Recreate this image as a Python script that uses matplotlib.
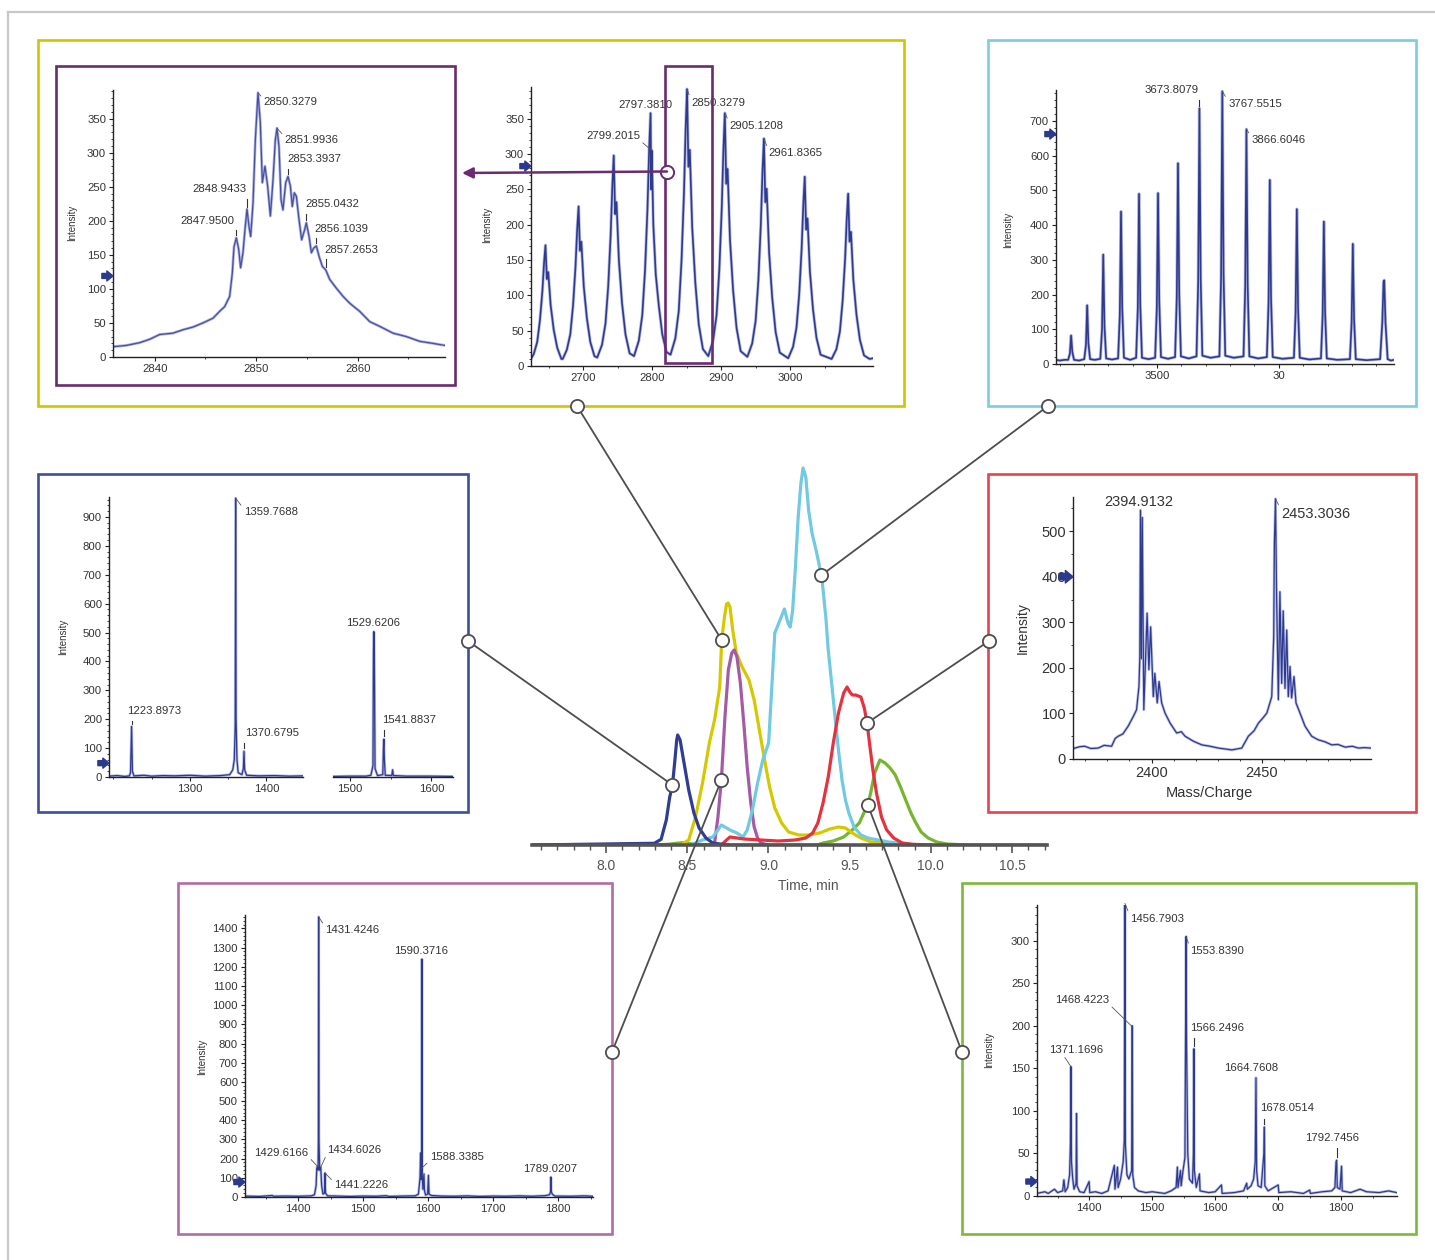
import numpy as np
import matplotlib.pyplot as plt
from matplotlib import font_manager
from matplotlib.patches import Rectangle

# ---------------- chromatogram traces (time, min / relative intensity) ----------------
blue_t = [7.544, 8.297, 8.339, 8.371, 8.392, 8.409, 8.424, 8.435, 8.441, 8.456, 8.477, 8.509, 8.541, 8.573, 8.615, 8.657, 8.75]
blue_h = [0, 1.7, 5.7, 25, 48, 60, 85, 105, 110, 105, 85, 55, 32, 17, 7, 2, 0]

yellow_t = [8.40, 8.466, 8.509, 8.551, 8.594, 8.636, 8.668, 8.700, 8.712, 8.729, 8.742, 8.751, 8.763, 8.780, 8.802,
            8.838, 8.880, 8.912, 8.944, 8.976, 9.007, 9.039, 9.081, 9.124, 9.187, 9.251, 9.315, 9.378, 9.431, 9.474,
            9.516, 9.569, 9.633, 9.718, 9.802, 9.95]
yellow_h = [0, 0.7, 5, 28, 62, 102, 125, 158, 205, 228, 241, 242, 238, 215, 192, 178, 165, 145, 115, 85, 58, 37, 22,
            13, 10, 10, 12, 16, 18, 17, 12, 7, 3, 2, 0.7, 0]

purple_t = [7.544, 8.657, 8.668, 8.689, 8.710, 8.732, 8.753, 8.774, 8.789, 8.806, 8.827, 8.848, 8.869, 8.891, 8.912,
            8.933, 8.954, 8.997]
purple_h = [0, 0, 2, 28, 65, 128, 175, 192, 195, 188, 162, 122, 78, 42, 18, 7, 2, 0]

cyan_t = [8.45, 8.530, 8.594, 8.657, 8.689, 8.710, 8.732, 8.763, 8.806, 8.844, 8.869, 8.901, 8.933, 8.965, 9.001,
          9.022, 9.039, 9.064, 9.098, 9.120, 9.134, 9.149, 9.166, 9.183, 9.200, 9.213, 9.230, 9.247, 9.268, 9.293,
          9.315, 9.332, 9.353, 9.368, 9.389, 9.410, 9.431, 9.453, 9.474, 9.495, 9.527, 9.569, 9.612, 9.675, 9.739,
          9.802, 9.908]
cyan_h = [0, 0.7, 5, 8, 15, 20, 18, 15, 12, 8, 15, 35, 62, 85, 102, 162, 212, 222, 236, 222, 218, 235, 278, 328, 362,
          377, 368, 335, 312, 295, 278, 262, 228, 195, 162, 128, 95, 65, 45, 32, 18, 10, 7, 5, 3, 2, 0]

red_t = [8.60, 8.710, 8.742, 8.763, 8.848, 8.954, 9.060, 9.166, 9.230, 9.272, 9.304, 9.336, 9.368, 9.399, 9.431,
         9.463, 9.484, 9.501, 9.516, 9.537, 9.569, 9.590, 9.607, 9.622, 9.643, 9.665, 9.696, 9.728, 9.771, 9.824,
         9.887, 10.0]
red_h = [0, 0, 5, 8, 6, 5, 4, 5, 7, 12, 22, 42, 68, 102, 132, 152, 158, 153, 150, 150, 148, 137, 122, 102, 75, 52,
         28, 15, 7, 2, 0.7, 0]

green_t = [8.30, 8.382, 8.466, 8.530, 8.60, 9.30, 9.336, 9.399, 9.463, 9.516, 9.559, 9.590, 9.612, 9.633, 9.654,
           9.686, 9.718, 9.749, 9.781, 9.813, 9.845, 9.877, 9.908, 9.940, 9.983, 10.036, 10.099, 10.226, 10.715]
green_h = [0, 0.7, 2.3, 1, 0, 0, 2, 4, 8, 15, 22, 33, 40, 55, 72, 85, 82, 77, 70, 58, 45, 32, 22, 13, 7, 3, 1, 0, 0]

# ---------------- mass spectra (m/z, intensity) ----------------
# zoomed isotope cluster (purple box)
a1_mz = [2835.83, 2837.21, 2838.52, 2839.51, 2840.49, 2841.81, 2842.79, 2843.78, 2844.76, 2845.75, 2846.40, 2846.90,
         2847.39, 2847.65, 2847.82, 2848.05, 2848.28, 2848.47, 2848.70, 2848.93, 2849.10, 2849.29, 2849.46, 2849.69,
         2849.92, 2850.18, 2850.41, 2850.61, 2850.87, 2851.13, 2851.40, 2851.66, 2851.89, 2852.05, 2852.25, 2852.45,
         2852.64, 2852.91, 2853.14, 2853.37, 2853.56, 2853.76, 2853.96, 2854.22, 2854.48, 2854.78, 2854.94, 2855.21,
         2855.44, 2855.67, 2855.93, 2856.19, 2856.52, 2856.85, 2857.24, 2857.90, 2858.56, 2859.21, 2860.20, 2861.18,
         2862.17, 2863.48, 2864.79, 2866.11, 2867.42, 2868.57]
a1_int = [15, 17, 21, 26, 33, 35, 40, 44, 50, 57, 67, 74, 89, 123, 162, 175, 158, 131, 153, 192, 217, 192, 177, 226,
          319, 388, 344, 256, 280, 251, 207, 260, 319, 336, 309, 231, 216, 256, 265, 251, 221, 241, 236, 202, 172,
          187, 197, 177, 153, 160, 163, 148, 133, 128, 114, 101, 89, 79, 67, 52, 45, 35, 30, 23, 20, 17]

# yellow charge envelope
a2_mz = [2624, 2628, 2633, 2637, 2640.5, 2643, 2645, 2647, 2649, 2652.5, 2657, 2662, 2668,
         2670, 2676, 2681, 2685, 2688.5, 2691, 2693, 2695, 2697, 2700.5, 2705, 2710, 2716,
         2720, 2727, 2732, 2736, 2739.5, 2742, 2744, 2746, 2748, 2751.5, 2756, 2761, 2767,
         2773.4, 2780.4, 2785.4, 2789.4, 2792.9, 2795.4, 2797.4, 2798.3, 2799.2, 2801.4, 2804.9, 2809.4, 2814.4, 2820.4,
         2826.3, 2833.3, 2838.3, 2842.3, 2845.8, 2848.3, 2850.3, 2852.3, 2854.3, 2857.8, 2862.3, 2867.3, 2873.3,
         2881.1, 2888.1, 2893.1, 2897.1, 2900.6, 2903.1, 2905.1, 2907.1, 2909.1, 2912.6, 2917.1, 2922.1, 2928.1,
         2937.8, 2944.8, 2949.8, 2953.8, 2957.3, 2959.8, 2961.8, 2963.8, 2965.8, 2969.3, 2973.8, 2978.8, 2984.8,
         2997, 3004, 3009, 3013, 3016.5, 3019, 3021, 3023, 3025, 3028.5, 3033, 3038, 3044,
         3060, 3067, 3072, 3076, 3079.5, 3082, 3084, 3086, 3088, 3091.5, 3096, 3101, 3107, 3115, 3120]
a2_int = [10, 17, 34, 65, 106, 147, 171, 123, 133, 86, 51, 26, 10,
          10, 23, 45, 86, 140, 194, 226, 163, 176, 113, 68, 34, 14,
          12, 30, 60, 113, 185, 256, 298, 215, 232, 149, 89, 45, 18,
          14, 36, 72, 136, 222, 308, 358, 250, 305, 200, 130, 85, 45, 20,
          16, 39, 78, 149, 243, 337, 392, 282, 306, 196, 118, 59, 24,
          14, 36, 72, 136, 222, 308, 358, 258, 279, 179, 107, 54, 21,
          13, 32, 64, 122, 200, 277, 322, 232, 251, 161, 97, 48, 19,
          11, 27, 54, 102, 166, 230, 268, 193, 209, 134, 80, 40, 16,
          10, 24, 49, 93, 151, 210, 244, 176, 190, 122, 73, 37, 15, 10, 11]

# cyan charge envelope
b_mz = [3085, 3100, 3120,
        3135, 3142, 3147, 3152, 3159, 3180,
        3201, 3208, 3213, 3218, 3225, 3245,
        3267, 3274, 3279, 3284, 3291, 3315,
        3340, 3347, 3352, 3357, 3364, 3390,
        3414, 3421, 3426, 3431, 3438, 3465,
        3492, 3499, 3504, 3509, 3516, 3545,
        3574, 3581, 3586, 3591, 3598, 3630,
        3662, 3669, 3674, 3679, 3686, 3720,
        3756, 3763, 3768, 3773, 3780, 3815,
        3855, 3862, 3867, 3872, 3879, 3915,
        3951, 3958, 3963, 3968, 3975, 4015,
        4062, 4069, 4074, 4079, 4086, 4125,
        4173, 4180, 4185, 4190, 4197, 4240,
        4292, 4299, 4304, 4309, 4316, 4360,
        4416, 4425, 4430, 4433, 4438, 4447, 4460, 4473]
b_int = [12, 10, 12,
         12, 30, 82, 35, 12, 10,
         14, 55, 169, 60, 14, 12,
         15, 100, 315, 110, 16, 13,
         16, 140, 439, 160, 18, 12,
         18, 160, 490, 170, 18, 14,
         18, 160, 492, 180, 20, 15,
         20, 190, 578, 200, 22, 16,
         22, 240, 736, 250, 24, 18,
         22, 250, 785, 260, 24, 18,
         22, 220, 676, 230, 22, 16,
         20, 180, 530, 190, 20, 15,
         18, 150, 446, 160, 18, 13,
         16, 140, 410, 150, 16, 12,
         14, 120, 346, 130, 14, 11,
         14, 120, 236, 241, 120, 14, 10, 12]

# dark blue spectrum, two segments
c1_mz = [1194.4, 1205, 1215, 1221, 1222.5, 1223.9, 1225, 1227, 1240, 1250, 1265, 1280, 1300, 1320, 1340, 1352, 1356,
         1358, 1359.2, 1359.77, 1360.3, 1361.5, 1363, 1368, 1369.8, 1370.68, 1371.5, 1374, 1390, 1410, 1430, 1447.7]
c1_int = [3, 5, 2, 4, 15, 175, 20, 4, 6, 3, 5, 4, 6, 3, 5, 8, 25, 60, 180, 965, 200, 60, 15, 8, 30, 89, 25, 6, 4, 5,
          3, 4]
c2_mz = [1479.6, 1500, 1520, 1526, 1528.5, 1529.1, 1529.62, 1530.2, 1531, 1534, 1540.5, 1541.3, 1541.88, 1542.5,
         1543.5, 1551.5, 1552.5, 1553.5, 1570, 1600, 1626.4]
c2_int = [2, 3, 3, 6, 40, 428, 503, 420, 30, 5, 8, 100, 131, 60, 6, 5, 25, 5, 3, 3, 2]

# red spectrum
d_mz = [2364.4, 2365.2, 2367.5, 2369.7, 2372.5, 2375.8, 2378.5, 2381.9, 2383.5, 2384.9, 2387, 2389.4, 2391.7, 2393.2,
        2394.3, 2394.7, 2395.0, 2395.4, 2395.8, 2396.5, 2398.0, 2398.8, 2399.6, 2400.8, 2401.5, 2402.6, 2403.4,
        2404.6, 2406.1, 2408.4, 2411.4, 2413.5, 2415.2, 2419.0, 2422.8, 2426.5, 2430.3, 2436.4, 2440.9, 2443.9,
        2446.5, 2448.5, 2450.5, 2452.3, 2454.5, 2455.4, 2455.7, 2456.2, 2456.7, 2457.5, 2458.2, 2459.0, 2459.7,
        2460.5, 2461.3, 2462.0, 2462.8, 2463.5, 2464.6, 2465.5, 2467.3, 2469.6, 2472.6, 2475.6, 2478.5, 2481.7,
        2484.5, 2487.8, 2491, 2493.8, 2496.5, 2499.4]
d_int = [22, 24, 27, 28, 23, 24, 30, 28, 45, 50, 55, 72, 93, 108, 159, 225, 546, 220, 530, 108, 320, 196, 290, 137,
         188, 123, 170, 123, 101, 79, 57, 60, 50, 39, 31, 28, 24, 20, 24, 50, 62, 79, 90, 101, 137, 269, 473, 571, 358,
         130, 367, 166, 325, 155, 283, 137, 203, 134, 181, 123, 101, 72, 50, 42, 38, 31, 32, 26, 28, 24, 25, 24]

# magenta spectrum
e_mz = [1318, 1340, 1360, 1362, 1380, 1400, 1420, 1425, 1427.5, 1428.5, 1429.6, 1430.5, 1431.0, 1431.42, 1431.9,
        1433, 1434.6, 1436, 1438, 1440.3, 1441.2, 1442, 1445, 1460, 1480, 1500, 1520, 1535, 1540, 1560, 1580, 1585,
        1587.5, 1588.34, 1589.3, 1590.0, 1590.37, 1590.8, 1592, 1593.5, 1594.3, 1596, 1599.2, 1600.4, 1601.3, 1605,
        1620, 1640, 1660, 1680, 1700, 1720, 1740, 1760, 1780, 1787, 1788.5, 1789.02, 1789.6, 1791, 1795, 1820, 1840,
        1853]
e_int = [5, 3, 8, 4, 5, 4, 6, 12, 60, 150, 160, 140, 300, 1460, 300, 140, 155, 60, 15, 20, 125, 20, 6, 5, 3, 5, 4, 7,
         3, 5, 6, 15, 100, 230, 90, 150, 1240, 120, 40, 120, 35, 10, 15, 113, 15, 8, 5, 4, 6, 3, 5, 4, 6, 4, 7, 12,
         30, 104, 30, 15, 5, 4, 6, 4]

# green spectrum
f_mz = [1317, 1330, 1335, 1345, 1350, 1358, 1360, 1362, 1366, 1369, 1370.3, 1371.17, 1372, 1374, 1376, 1379.3, 1380,
        1380.8, 1385, 1392, 1400, 1401, 1410, 1420, 1430, 1440, 1441, 1445, 1446, 1450, 1454, 1455.8, 1456.79,
        1457.6, 1460, 1463, 1467.5, 1468.42, 1469.2, 1472, 1478, 1490, 1500, 1520, 1530, 1538, 1540, 1541, 1545,
        1546, 1549, 1552, 1553.0, 1553.84, 1554.6, 1556.5, 1559, 1564, 1565.5, 1566.25, 1567, 1570, 1575, 1576,
        1590, 1600, 1610, 1611, 1630, 1645, 1650, 1651, 1657, 1661, 1663.5, 1664.76, 1665.8, 1668, 1673, 1677.3,
        1678.05, 1678.8, 1684, 1700, 1701, 1720, 1740, 1750, 1751, 1770, 1785, 1790, 1791.8, 1792.75, 1793.7, 1798,
        1800.5, 1801.5, 1815, 1830, 1840, 1860, 1875, 1888]
f_int = [3, 5, 3, 8, 4, 6, 19, 5, 10, 25, 60, 152, 40, 20, 8, 15, 97, 12, 5, 4, 17, 4, 5, 3, 6, 36, 8, 34, 10, 20,
         40, 65, 344, 60, 25, 20, 30, 200, 25, 10, 6, 4, 5, 3, 6, 10, 34, 10, 30, 12, 30, 45, 186, 305, 180, 50, 20,
         15, 50, 173, 30, 10, 26, 6, 4, 5, 13, 3, 4, 6, 15, 8, 12, 20, 40, 139, 30, 12, 10, 50, 81, 12, 6, 13, 4, 5,
         3, 7, 3, 5, 6, 10, 40, 42, 10, 8, 35, 6, 4, 8, 5, 4, 6, 4]

# ---------------- figure ----------------
W, H = 1435, 1260
fig = plt.figure(figsize=(W / 100, H / 100), dpi=100)
fig.patch.set_facecolor('white')

names = {f.name for f in font_manager.fontManager.ttflist}
NARROW = 'Liberation Sans Narrow' if 'Liberation Sans Narrow' in names else 'Liberation Sans'
FS = 9 if NARROW.endswith('Narrow') else 8.2
SANS = 'Liberation Sans'

LINE = '#2e3a8f'
HALO = '#a9b0de'
ARROW = '#2c3a8c'

# overlay in pixel coordinates, drawn on top of everything
bg = fig.add_axes([0, 0, 1, 1], zorder=10)
bg.set_xlim(0, W)
bg.set_ylim(H, 0)
bg.axis('off')
bg.patch.set_alpha(0)


def px_axes(left, top, right, bottom):
    return fig.add_axes([left / W, 1 - bottom / H, (right - left) / W, (bottom - top) / H])


def spectrum_axes(box, xlim, ylim, xmaj, xmin, ymaj, ymin, xlabels=None, show_y=True, fs=FS, family=NARROW):
    ax = px_axes(*box)
    ax.patch.set_alpha(0)
    ax.spines[['top', 'right']].set_visible(False)
    for s in ['left', 'bottom']:
        ax.spines[s].set_color('#222')
        ax.spines[s].set_linewidth(1.0)
    ax.set_xticks(xmaj)
    if xlabels:
        ax.set_xticklabels(xlabels)
    ax.set_xticks(xmin, minor=True)
    if show_y:
        ax.set_yticks(ymaj)
        ax.set_yticks(ymin, minor=True)
    else:
        ax.spines['left'].set_visible(False)
        ax.set_yticks([])
    ax.set_xlim(*xlim)
    ax.set_ylim(*ylim)
    ax.tick_params(which='major', length=3, width=0.8, color='#222', labelsize=fs, labelcolor='#333', pad=2)
    ax.tick_params(which='minor', length=1.6, width=0.6, color='#222')
    for lab in ax.get_xticklabels() + ax.get_yticklabels():
        lab.set_family(family)
    return ax


def trace(ax, x, y, lw=0.9):
    ax.plot(x, y, color=HALO, lw=lw + 1.1, solid_joinstyle='round', alpha=0.8)
    ax.plot(x, y, color=LINE, lw=lw, solid_joinstyle='round')


def y_arrow(ax, yv, size=8):
    ax.annotate('', xy=(0, yv), xycoords=('axes fraction', 'data'), xytext=(-size, 0), textcoords='offset points',
                arrowprops=dict(arrowstyle='simple,head_length=0.55,head_width=0.9,tail_width=0.45',
                                fc=ARROW, ec=ARROW, mutation_scale=size, shrinkA=0, shrinkB=0),
                annotation_clip=False)


def put_labels(ax, labels, fs=FS, family=NARROW):
    y0, y1 = ax.get_ylim()
    span = y1 - y0
    for lab in labels:
        text, x, y, tx, ty, kind, ha = lab[:7]
        if kind == 'lead':
            ax.annotate(text, xy=(x, y), xytext=(tx, ty), ha=ha, va='center', fontsize=fs, family=family,
                        color='#333', annotation_clip=False,
                        arrowprops=dict(arrowstyle='-', color='#555', lw=0.6, shrinkA=0, shrinkB=0, relpos=lab[7]))
        else:
            if kind == 'tick':
                ax.plot([x, x], [y + 0.01 * span, ty - 0.035 * span], color='#333', lw=0.8, clip_on=False)
            ax.text(tx, ty, text, ha=ha, va='center', fontsize=fs, family=family, color='#333', clip_on=False)


def ylabel_px(x, y, fs=7, family=NARROW):
    bg.text(x, y, 'Intensity', rotation=90, ha='center', va='center', fontsize=fs, family=family, color='#333')


# ---- yellow panel, left: zoomed cluster ----
ax = spectrum_axes((113, 90, 445, 357), (2835.9, 2868.6), (0, 392), [2840, 2850, 2860], [2845, 2855, 2865],
                   np.arange(0, 351, 50), np.arange(0, 391, 10))
ax.plot(a1_mz, a1_int, color='#8c93d0', lw=2.0, alpha=0.7)
ax.plot(a1_mz, a1_int, color='#4450a0', lw=0.9)
y_arrow(ax, 119)
put_labels(ax, [('2850.3279', 2850.18, 388, 2850.74, 374, 'lead', 'left', (0, 0.8)),
                ('2851.9936', 2852.05, 336, 2852.81, 319, 'lead', 'left', (0, 0.8)),
                ('2853.3937', 2853.14, 265, 2853.04, 290, 'tick', 'left'),
                ('2848.9433', 2849.10, 217, 2849.03, 246, 'tick', 'right'),
                ('2847.9500', 2848.05, 175, 2847.88, 200, 'tick', 'right'),
                ('2855.0432', 2854.94, 197, 2854.84, 224, 'tick', 'left'),
                ('2856.1039', 2855.93, 163, 2855.76, 188, 'tick', 'left'),
                ('2857.2653', 2856.85, 128, 2856.75, 157, 'tick', 'left')])
ylabel_px(72, 223)

# ---- yellow panel, right: charge envelope ----
ax = spectrum_axes((531, 87, 873, 366), (2624, 3120), (0, 395), [2700, 2800, 2900, 3000], [2650, 2750, 2850, 2950, 3050],
                   np.arange(0, 351, 50), np.arange(0, 395, 10))
trace(ax, a2_mz, a2_int, lw=1.2)
y_arrow(ax, 283)
put_labels(ax, [('2797.3810', 2797.4, 358, 2790, 370, 'plain', 'center'),
                ('2799.2015', 2799.2, 305, 2782, 325, 'lead', 'right', (1, 0.1)),
                ('2850.3279', 2850.3, 392, 2856, 373, 'lead', 'left', (0, 0.8)),
                ('2905.1208', 2905.1, 358, 2912, 340, 'lead', 'left', (0, 0.8)),
                ('2961.8365', 2961.8, 322, 2968.5, 301, 'lead', 'left', (0, 0.8))])
ylabel_px(487, 225)

# ---- cyan panel ----
ax = spectrum_axes((1056, 90, 1394, 364), (3085, 4473), (0, 789), [3500, 4000],
                   [3100, 3200, 3300, 3400, 3600, 3700, 3800, 3900, 4100, 4200, 4300, 4400],
                   np.arange(0, 701, 100), np.arange(0, 789, 20), xlabels=['3500', '30'])
trace(ax, b_mz, b_int, lw=1.2)
y_arrow(ax, 662)
put_labels(ax, [('3673.8079', 3674, 736, 3669, 789, 'tick', 'right'),
                ('3767.5515', 3768, 785, 3792, 749, 'lead', 'left', (0, 0.8)),
                ('3866.6046', 3867, 676, 3888, 645, 'lead', 'left', (0, 0.8))])
ylabel_px(1008, 230)

# ---- dark blue panel ----
ax = spectrum_axes((109, 497, 303, 777), (1194.4, 1447.7), (0, 969), [1300, 1400], [1200, 1250, 1350],
                   np.arange(0, 901, 100), np.arange(0, 969, 20))
trace(ax, c1_mz, c1_int)
y_arrow(ax, 48)
put_labels(ax, [('1359.7688', 1359.77, 965, 1370.4, 917, 'lead', 'left', (0, 0.8)),
                ('1223.8973', 1223.9, 175, 1218.3, 227, 'tick', 'left'),
                ('1370.6795', 1370.68, 89, 1372.6, 152, 'tick', 'left')])
ax = spectrum_axes((333, 497, 453, 777), (1479.6, 1626.4), (0, 969), [1500, 1600], [1550], [], [], show_y=False)
trace(ax, c2_mz, c2_int)
put_labels(ax, [('1529.6206', 1529.62, 503, 1528.6, 532, 'plain', 'center'),
                ('1541.8837', 1541.88, 131, 1540.2, 198, 'tick', 'left')])
ylabel_px(63, 637)

# ---- red panel ----
ax = spectrum_axes((1073, 497, 1371, 759), (2364.4, 2499.5), (0, 575), [2400, 2450], np.arange(2370, 2500, 10),
                   np.arange(0, 501, 100), np.arange(0, 575, 50), fs=10.5, family=SANS)
trace(ax, d_mz, d_int)
y_arrow(ax, 400, size=10)
put_labels(ax, [('2394.9132', 2395.0, 546, 2394.4, 564, 'plain', 'center'),
                ('2453.3036', 2456.2, 571, 2458.8, 537, 'lead', 'left', (0, 0.8))], fs=10.5, family=SANS)
ylabel_px(1023, 628, fs=10, family=SANS)
bg.text(1209, 793, 'Mass/Charge', ha='center', va='center', fontsize=10.5, family=SANS, color='#333')

# ---- magenta panel ----
ax = spectrum_axes((245, 915, 593, 1197), (1318, 1853.8), (0, 1470), [1400, 1500, 1600, 1700, 1800],
                   [1350, 1450, 1550, 1650, 1750, 1850], np.arange(0, 1401, 100), np.arange(0, 1470, 20))
trace(ax, e_mz, e_int)
y_arrow(ax, 78)
put_labels(ax, [('1431.4246', 1431.42, 1460, 1442, 1390, 'lead', 'left', (0, 0.8)),
                ('1590.3716', 1590.37, 1240, 1589.8, 1281, 'plain', 'center'),
                ('1429.6166', 1429.6, 160, 1415.4, 229, 'lead', 'right', (1, 0.15)),
                ('1434.6026', 1434.6, 155, 1444.6, 247, 'lead', 'left', (0, 0.15)),
                ('1441.2226', 1441.2, 125, 1455.4, 65, 'lead', 'left', (0, 0.7)),
                ('1588.3385', 1590.0, 150, 1602.6, 209, 'lead', 'left', (0, 0.15)),
                ('1789.0207', 1789.02, 104, 1787.2, 146, 'plain', 'center')])
ylabel_px(202, 1057)

# ---- green panel ----
ax = spectrum_axes((1037, 905, 1397, 1196), (1317.3, 1888.5), (0, 342), [1400, 1500, 1600, 1700, 1800],
                   [1350, 1450, 1550, 1650, 1750, 1850], np.arange(0, 301, 50), np.arange(0, 342, 10),
                   xlabels=['1400', '1500', '1600', '00', '1800'])
trace(ax, f_mz, f_int)
y_arrow(ax, 17)
put_labels(ax, [('1456.7903', 1456.79, 344, 1464.7, 326, 'lead', 'left', (0, 0.8)),
                ('1553.8390', 1553.84, 305, 1560.1, 288, 'lead', 'left', (0, 0.8)),
                ('1468.4223', 1468.42, 199, 1431.8, 230, 'lead', 'right', (1, 0.1)),
                ('1371.1696', 1371.17, 152, 1380, 172, 'lead', 'center', (0.25, 0)),
                ('1566.2496', 1566.25, 173, 1560, 198, 'tick', 'left'),
                ('1664.7608', 1664.76, 139, 1656.6, 150, 'plain', 'center'),
                ('1678.0514', 1678.05, 81, 1671.4, 103, 'tick', 'left'),
                ('1792.7456', 1792.75, 42, 1785.4, 68, 'tick', 'center')])
ylabel_px(989, 1050)

# ---- central chromatogram ----
cax = px_axes(532, 460, 1047, 845)
cax.patch.set_alpha(0)
cax.set_xticks(np.arange(8.0, 10.51, 0.5))
cax.set_xticks(np.arange(7.6, 10.75, 0.1), minor=True)
cax.set_xticklabels(['8.0', '8.5', '9.0', '9.5', '10.0', '10.5'])
cax.set_yticks([])
cax.set_xlim(7.544, 10.715)
cax.set_ylim(0, 385)
for s in ['top', 'right', 'left']:
    cax.spines[s].set_visible(False)
cax.spines['bottom'].set_color('#555')
cax.spines['bottom'].set_linewidth(2.6)
cax.tick_params(which='major', length=6, width=1.2, color='#555', labelsize=10, labelcolor='#555', pad=4)
cax.tick_params(which='minor', length=3.5, width=1.0, color='#555')
for lab in cax.get_xticklabels():
    lab.set_family(SANS)

chrom = [(green_t, green_h, '#77b42f'), (yellow_t, yellow_h, '#d6c800'), (purple_t, purple_h, '#a35ba5'),
         (cyan_t, cyan_h, '#71c9e2'), (red_t, red_h, '#e5323e'), (blue_t, blue_h, '#2f3e92')]
for t, h, col in chrom:
    cax.plot(t, h, color=col, lw=2.3, solid_joinstyle='round')
bg.text(808, 886, 'Time, min', ha='center', va='center', fontsize=10, family=SANS, color='#555')

# ---- panel frames ----
bg.plot([8, W], [12, 12], color='#c8c8c8', lw=1.6)
bg.plot([8, 8], [12, H], color='#c8c8c8', lw=1.6)
frames = [((38, 40, 904, 406), '#d4c300'), ((56, 66, 455, 385), '#6b2b71'), ((988, 40, 1416, 406), '#7fcbe3'),
          ((38, 474, 468, 812), '#3d4f9b'), ((988, 474, 1416, 812), '#e6434b'), ((178, 883, 612, 1234), '#b26aa9'),
          ((962, 883, 1416, 1234), '#7cb83a'), ((665, 66, 712, 363), '#6b2b71')]
for (x0, y0, x1, y1), col in frames:
    bg.add_patch(Rectangle((x0, y0), x1 - x0, y1 - y0, fill=False, edgecolor=col, lw=1.9))

# purple zoom arrow
bg.annotate('', xy=(462, 173), xytext=(667, 171.5),
            arrowprops=dict(arrowstyle='-|>', color='#6b2b71', lw=1.8, mutation_scale=16, shrinkA=0, shrinkB=0))
bg.plot(667, 171.5, 'o', ms=9.5, mfc='white', mec='#6b2b71', mew=1.4)

# ---- connectors from chromatogram peaks to spectra ----
links = [(yellow_t, yellow_h, 8.712, (577, 406)), (cyan_t, cyan_h, 9.324, (1048, 406)),
         (blue_t, blue_h, 8.409, (468, 641)), (red_t, red_h, 9.607, (989, 641)),
         (purple_t, purple_h, 8.710, (612, 1052)), (green_t, green_h, 9.612, (962, 1052))]
for t, h, ta, (bx, by) in links:
    dx, dy = cax.transData.transform((ta, np.interp(ta, t, h)))
    px, py = dx, H - dy
    bg.plot([px, bx], [py, by], color='#4d4d4d', lw=1.3)
    bg.plot([px, bx], [py, by], 'o', ms=9.5, mfc='white', mec='#4d4d4d', mew=1.3)

fig.savefig('out.png', dpi=100)
